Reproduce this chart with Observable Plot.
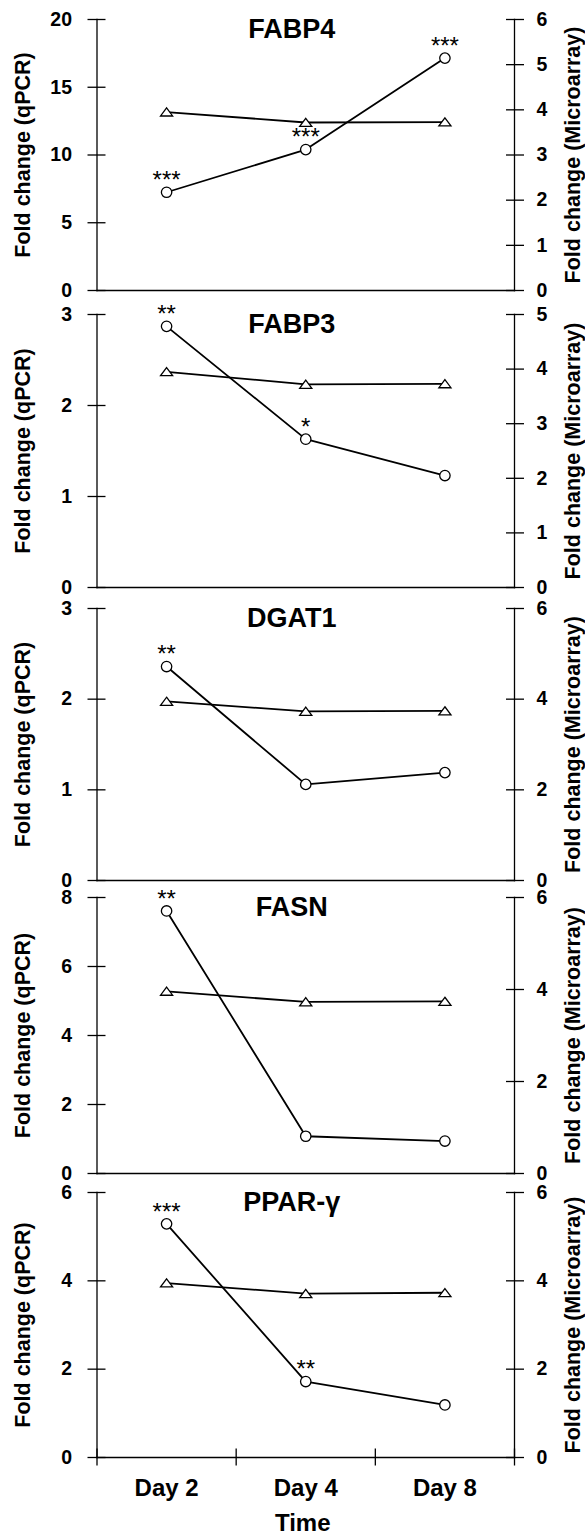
<!DOCTYPE html>
<html>
<head>
<meta charset="utf-8">
<script src="https://cdn.jsdelivr.net/npm/d3@7"></script>
<script src="https://cdn.jsdelivr.net/npm/@observablehq/plot@0.6"></script>
<style>
  body { margin: 0; background: #fff; }
  #chart { width: 585px; height: 1535px; font-family: "Liberation Sans", Arial, sans-serif; }
  #chart svg { display: block; }
</style>
</head>
<body>
<div id="chart"></div>
<script>
// ---- data ----
const days = ["Day 2", "Day 4", "Day 8"];
const genes = ["FABP4", "FABP3", "DGAT1", "FASN", "PPAR-γ"];

const qpcrFABP4 = [7.25, 10.4, 17.15];
const qpcrFABP3 = [2.87, 1.63, 1.23];
const qpcrDGAT1 = [2.36, 1.06, 1.19];
const qpcrFASN  = [7.61, 1.08, 0.94];
const qpcrPPARG = [5.29, 1.72, 1.19];

const microFABP4 = [3.95, 3.72, 3.73];
const microFABP3 = [3.95, 3.72, 3.73];
const microDGAT1 = [3.95, 3.73, 3.74];
const microFASN  = [3.96, 3.73, 3.74];
const microPPARG = [3.95, 3.71, 3.73];

const sigFABP4 = ["***", "***", "***"];
const sigFABP3 = ["**", "*", ""];
const sigDGAT1 = ["**", "", ""];
const sigFASN  = ["**", "", ""];
const sigPPARG = ["***", "**", ""];

const leftTicksFABP4 = [0, 5, 10, 15, 20];
const leftTicksFABP3 = [0, 1, 2, 3];
const leftTicksDGAT1 = [0, 1, 2, 3];
const leftTicksFASN  = [0, 2, 4, 6, 8];
const leftTicksPPARG = [0, 2, 4, 6];

const rightTicksFABP4 = [0, 1, 2, 3, 4, 5, 6];
const rightTicksFABP3 = [0, 1, 2, 3, 4, 5];
const rightTicksDGAT1 = [0, 2, 4, 6];
const rightTicksFASN  = [0, 2, 4, 6];
const rightTicksPPARG = [0, 2, 4, 6];

const leftLabel = "Fold change (qPCR)";
const rightLabel = "Fold change (Microarray)";
const xLabel = "Time";

// ---- panels built from the arrays ----
const panels = [
  {name: genes[0], q: qpcrFABP4, m: microFABP4, sig: sigFABP4, lt: leftTicksFABP4, rt: rightTicksFABP4},
  {name: genes[1], q: qpcrFABP3, m: microFABP3, sig: sigFABP3, lt: leftTicksFABP3, rt: rightTicksFABP3},
  {name: genes[2], q: qpcrDGAT1, m: microDGAT1, sig: sigDGAT1, lt: leftTicksDGAT1, rt: rightTicksDGAT1},
  {name: genes[3], q: qpcrFASN,  m: microFASN,  sig: sigFASN,  lt: leftTicksFASN,  rt: rightTicksFASN},
  {name: genes[4], q: qpcrPPARG, m: microPPARG, sig: sigPPARG, lt: leftTicksPPARG, rt: rightTicksPPARG}
];

// layout (svg height, top margin, bottom margin)
const layout = [
  {h: 302, mt: 19, mb: 12},
  {h: 295, mt: 12, mb: 10},
  {h: 291, mt: 11, mb: 8},
  {h: 294, mt: 9,  mb: 9},
  {h: 353, mt: 10, mb: 78}
];

const flatTriangle = {
  draw(ctx, size) {
    const r = Math.sqrt(size / Math.PI);
    ctx.moveTo(0, -r * 0.78);
    ctx.lineTo(r * 1.12, r * 0.72);
    ctx.lineTo(-r * 1.12, r * 0.72);
    ctx.closePath();
  }
};

const font = "bold";
const container = document.getElementById("chart");

panels.forEach((p, idx) => {
  const L = p.lt[p.lt.length - 1];
  const R = p.rt[p.rt.length - 1];
  const k = L / R;
  const rows = days.map((d, i) => ({i, day: d, q: p.q[i], m: p.m[i] * k, sig: p.sig[i]}));
  const xi = d => d.i + 0.5;
  const last = idx === panels.length - 1;
  const lay = layout[idx];

  const marks = [
    Plot.frame({anchor: "left", strokeWidth: 1.3}),
    Plot.frame({anchor: "right", strokeWidth: 1.3}),
    Plot.frame({anchor: "bottom", strokeWidth: 1.3}),
    Plot.axisY(p.lt, {fill: "none", tickSize: 18, dx: 9, strokeWidth: 1.3}),
    Plot.axisY(p.lt, {stroke: "none", tickSize: 0, tickPadding: 25, tickFormat: d => String(d),
      fontSize: 19.5, fontWeight: font, label: null}),
    Plot.axisY(p.rt.map(t => t * k), {anchor: "right", fill: "none", tickSize: 18, dx: -9, strokeWidth: 1.3}),
    Plot.axisY(p.rt.map(t => t * k), {anchor: "right", stroke: "none", tickSize: 0, tickPadding: 22,
      tickFormat: d => String(Math.round(d / k)), fontSize: 19.5, fontWeight: font, label: null}),
    Plot.line(rows, {x: xi, y: "m", stroke: "black", strokeWidth: 1.8}),
    Plot.line(rows, {x: xi, y: "q", stroke: "black", strokeWidth: 1.8}),
    Plot.dot(rows, {x: xi, y: "m", symbol: flatTriangle, r: 5.4, fill: "white", stroke: "black", strokeWidth: 1.3}),
    Plot.dot(rows, {x: xi, y: "q", r: 5.2, fill: "white", stroke: "black", strokeWidth: 1.3}),
    Plot.text(rows.filter(d => d.sig), {x: xi, y: "q", text: "sig", dy: -12, fontSize: 24, fill: "black"}),
    Plot.text([p.name], {frameAnchor: "top", textAnchor: "middle", lineAnchor: "middle",
      dx: -14, dy: 10, fontSize: 27, fontWeight: font, fill: "black"}),
    Plot.text([leftLabel], {frameAnchor: "left", textAnchor: "middle", lineAnchor: "middle",
      rotate: -90, dx: -74, fontSize: 21.5, fontWeight: font, fill: "black"}),
    Plot.text([rightLabel], {frameAnchor: "right", textAnchor: "middle", lineAnchor: "middle",
      rotate: -90, dx: 59, fontSize: 21.5, fontWeight: font, fill: "black"})
  ];

  if (last) {
    marks.push(
      Plot.axisX(d3.range(days.length + 1), {fill: "none", tickSize: 17, dy: -8.5, strokeWidth: 1.3}),
      Plot.axisX(days.map((d, i) => i + 0.5), {stroke: "none", tickSize: 0, tickPadding: 21,
        tickFormat: d => days[Math.floor(d)], fontSize: 24, fontWeight: font, label: null}),
      Plot.text([xLabel], {frameAnchor: "bottom", textAnchor: "middle", lineAnchor: "middle",
        dx: -3, dy: 66, fontSize: 24, fontWeight: font, fill: "black"})
    );
  }

  const chart = Plot.plot({
    width: 585,
    height: lay.h,
    marginTop: lay.mt,
    marginBottom: lay.mb,
    marginLeft: 96.5,
    marginRight: 71,
    x: {domain: [0, days.length], axis: last ? undefined : null},
    y: {domain: [0, L], label: null},
    style: {overflow: "visible", background: "transparent", color: "black",
      fontFamily: "\"Liberation Sans\", Arial, sans-serif"},
    marks
  });
  container.appendChild(chart);
});
</script>
</body>
</html>
